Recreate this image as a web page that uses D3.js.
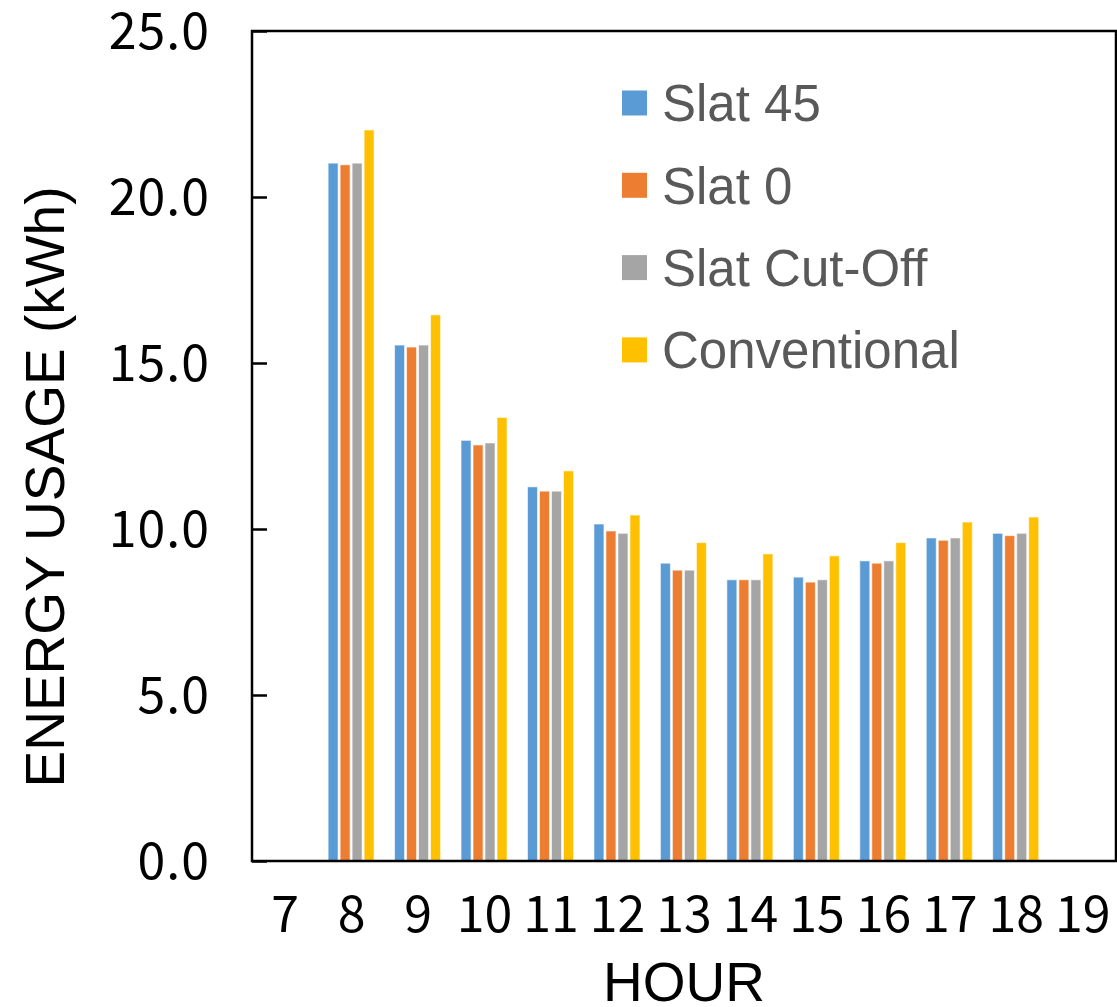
<!DOCTYPE html>
<html>
<head>
<meta charset="utf-8">
<script src="https://cdn.jsdelivr.net/npm/d3@7"></script>
<style>
  html, body { margin: 0; padding: 0; background: #fff; }
  svg { display: block; }
</style>
</head>
<body>
<svg id="chart" width="1117" height="1007"></svg>
<script>
// Hourly energy usage by blind configuration
const hours = [7, 8, 9, 10, 11, 12, 13, 14, 15, 16, 17, 18, 19];
const seriesNames = ["Slat 45", "Slat 0", "Slat Cut-Off", "Conventional"];
const seriesColors = ["#5b9bd5", "#ed7d31", "#a5a5a5", "#ffc000"];

// values per hour (null = no reading)
const slat45      = [null, 21.02, 15.54, 12.67, 11.27, 10.15, 8.97, 8.47, 8.55, 9.04, 9.73, 9.87, null];
const slat0       = [null, 20.97, 15.48, 12.53, 11.14, 9.94, 8.76, 8.47, 8.40, 8.97, 9.66, 9.80, null];
const slatCutOff  = [null, 21.02, 15.54, 12.59, 11.14, 9.87, 8.76, 8.47, 8.47, 9.04, 9.73, 9.87, null];
const conventional= [null, 22.02, 16.45, 13.36, 11.75, 10.42, 9.59, 9.25, 9.19, 9.59, 10.21, 10.36, null];

const yTicks = [0, 5, 10, 15, 20, 25];

const seriesValues = [slat45, slat0, slatCutOff, conventional];

const svg = d3.select("#chart");
const plotLeft = 252, plotRight = 1116, plotTop = 31, plotBottom = 861;

const x0 = d3.scaleBand().domain(hours).range([plotLeft, plotRight]).paddingInner(0).paddingOuter(0);
const bw = x0.bandwidth();
const x1 = d3.scaleBand().domain(d3.range(seriesNames.length))
  .range([bw * 0.145, bw * 0.145 + 46]).paddingInner(1 / 6).paddingOuter(0);
const y = d3.scaleLinear().domain([0, 25]).range([plotBottom, plotTop]);

// bars
const groups = svg.append("g").selectAll("g")
  .data(hours)
  .join("g")
  .attr("transform", d => `translate(${x0(d)},0)`);

groups.selectAll("rect")
  .data((h, i) => seriesValues.map((vals, s) => ({ s, v: vals[i] })).filter(d => d.v != null))
  .join("rect")
  .attr("x", d => x1(d.s))
  .attr("width", x1.bandwidth())
  .attr("y", d => y(d.v))
  .attr("height", d => y(0) - y(d.v))
  .attr("fill", d => seriesColors[d.s])
  .attr("stroke", "#ffffff")
  .attr("stroke-opacity", 0.6)
  .attr("stroke-width", 1);

// y axis with inward ticks
const yAxis = d3.axisLeft(y).tickValues(yTicks).tickSize(-15).tickPadding(42)
  .tickFormat(d3.format(".1f"));
const gy = svg.append("g").attr("transform", `translate(${plotLeft},0)`).call(yAxis);
gy.select(".domain").remove();
gy.selectAll(".tick line").attr("stroke", "#000").attr("stroke-width", 2.5);
gy.selectAll(".tick text")
  .attr("font-family", "'Noto Sans CJK JP', sans-serif")
  .attr("font-size", 50)
  .attr("letter-spacing", 1)
  .attr("fill", "#000")
  .attr("dy", "0.34em");

// x axis labels
const xAxis = d3.axisBottom(x0).tickSize(0).tickPadding(71);
const gx = svg.append("g").attr("transform", `translate(0,${plotBottom})`).call(xAxis);
gx.select(".domain").remove();
gx.selectAll(".tick text")
  .attr("font-family", "'Noto Sans CJK JP', sans-serif")
  .attr("font-size", 50)
  .attr("fill", "#000")
  .attr("dy", "0em");

// plot frame
svg.append("rect")
  .attr("x", plotLeft).attr("y", plotTop)
  .attr("width", plotRight - plotLeft).attr("height", plotBottom - plotTop)
  .attr("fill", "none").attr("stroke", "#000").attr("stroke-width", 2.5);

// axis titles
svg.append("text")
  .attr("x", (plotLeft + plotRight) / 2).attr("y", 1001)
  .attr("text-anchor", "middle")
  .attr("font-family", "'Liberation Sans', Arial, sans-serif")
  .attr("font-size", 55)
  .attr("fill", "#000")
  .text("HOUR");

svg.append("text")
  .attr("transform", "translate(64,487) rotate(-90)")
  .attr("text-anchor", "middle")
  .attr("font-family", "'Liberation Sans', Arial, sans-serif")
  .attr("font-size", 55)
  .attr("fill", "#000")
  .text("ENERGY USAGE (kWh)");

// legend
const legend = svg.append("g").selectAll("g")
  .data(seriesNames)
  .join("g")
  .attr("transform", (d, i) => `translate(622,${103 + i * 82.3})`);
legend.append("rect")
  .attr("x", 0).attr("y", -12.5).attr("width", 25).attr("height", 25)
  .attr("fill", (d, i) => seriesColors[i]);
legend.append("text")
  .attr("x", 40).attr("y", 0).attr("dy", "0.36em")
  .attr("font-family", "'Liberation Sans', Arial, sans-serif")
  .attr("font-size", 51)
  .attr("fill", "#595959")
  .text(d => d);
</script>
</body>
</html>
